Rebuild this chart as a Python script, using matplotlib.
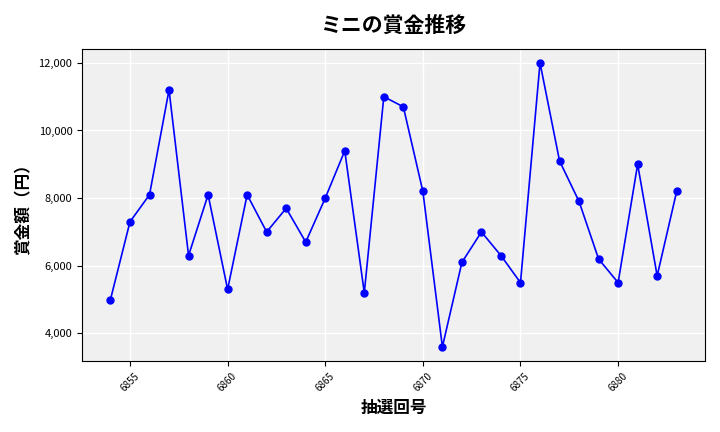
import matplotlib
matplotlib.use("Agg")
import matplotlib.pyplot as plt
from matplotlib.ticker import FuncFormatter

plt.rcParams['font.family'] = ['Noto Sans CJK JP', 'DejaVu Sans']

draws = list(range(6854, 6884))
prizes = [5000, 7300, 8100, 11200, 6300, 8100, 5300, 8100, 7000, 7700,
          6700, 8000, 9400, 5200, 11000, 10700, 8200, 3600, 6100, 7000,
          6300, 5500, 12000, 9100, 7900, 6200, 5500, 9000, 5700, 8200]

fig, ax = plt.subplots(figsize=(7.2, 4.32), dpi=100)
ax.set_facecolor('#f0f0f0')
ax.grid(True, color='white', linewidth=1)
ax.set_axisbelow(True)
ax.plot(draws, prizes, color='blue', marker='o', markersize=5, linewidth=1.2)
ax.set_title('ミニの賞金推移', fontsize=15, fontweight='bold', pad=12)
ax.set_xlabel('抽選回号', fontsize=12, fontweight='bold')
ax.set_ylabel('賞金額（円）', fontsize=12, fontweight='bold')
ax.set_xticks(range(6855, 6884, 5))
ax.tick_params(axis='x', labelrotation=45, labelsize=7)
ax.tick_params(axis='y', labelsize=8)
ax.yaxis.set_major_formatter(FuncFormatter(lambda v, p: f'{int(v):,}'))
fig.tight_layout()
fig.savefig('out.png')
